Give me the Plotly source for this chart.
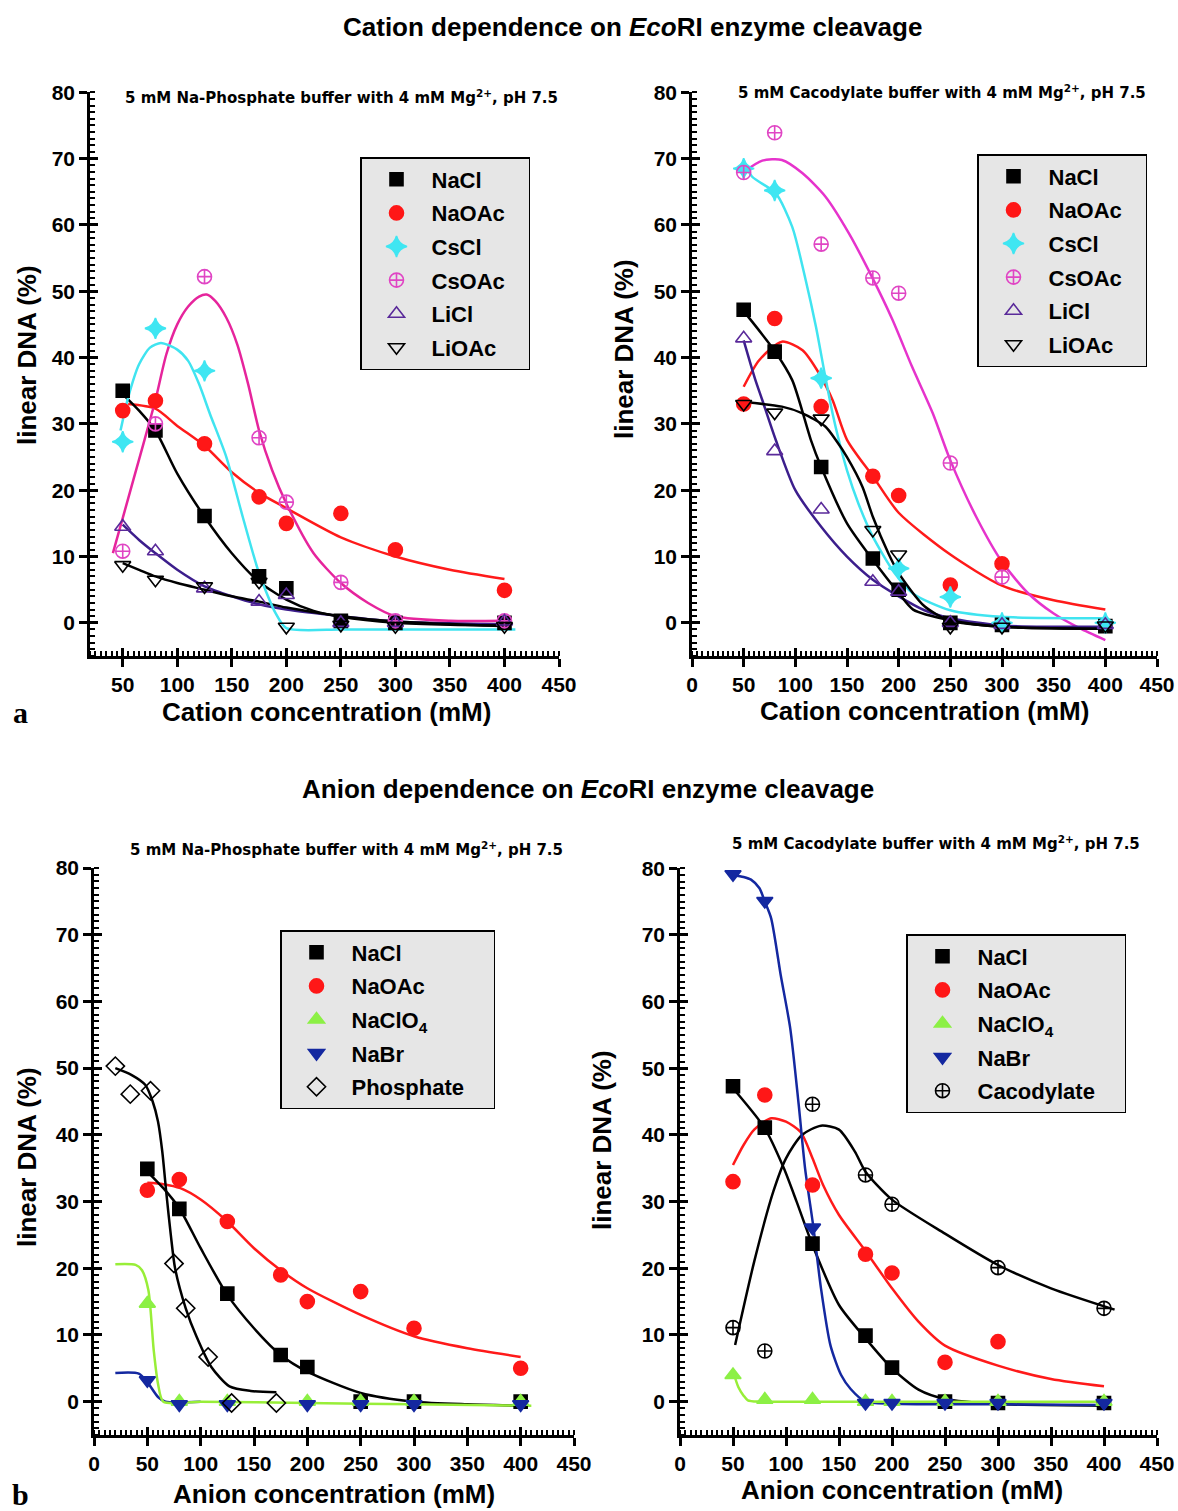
import plotly.graph_objects as go

# ---------------- DATA ----------------
# Panel a, left: 5 mM Na-phosphate buffer, cation dependence
a1_x = [50, 80, 125, 175, 200, 250, 300, 400]
a1_NaCl = [35.0, 29.0, 16.1, 7.0, 5.2, 0.3, 0.0, 0.0]
a1_NaOAc = [32.0, 33.5, 27.0, 19.0, 15.0, 16.5, 11.0, 4.9]
a1_CsCl_x = [50, 80, 125]
a1_CsCl = [27.3, 44.4, 38.0]
a1_CsOAc = [10.8, 30.0, 52.2, 27.9, 18.2, 6.1, 0.3, 0.3]
a1_LiCl = [14.5, 10.8, 5.2, 3.2, 4.2, 0.0, 0.0, 0.2]
a1_LiOAc = [8.7, 6.5, 5.5, 6.2, -0.6, -0.3, -0.5, -0.5]

a1_fit_NaCl_x = [50, 65, 80, 100, 125, 150, 175, 200, 225, 250, 300, 350, 400]
a1_fit_NaCl_y = [34.5, 32.0, 29.0, 22.5, 16.0, 10.5, 6.2, 3.5, 1.8, 0.9, 0.0, -0.3, -0.4]
a1_fit_NaOAc_x = [55, 80, 100, 125, 150, 175, 200, 250, 300, 350, 400]
a1_fit_NaOAc_y = [33.0, 32.3, 29.7, 26.7, 22.7, 19.6, 17.3, 12.9, 10.0, 8.0, 6.6]
a1_fit_CsCl_x = [48, 55, 65, 75, 85, 100, 110, 120, 130, 145, 160, 175, 190, 200, 250, 300, 410]
a1_fit_CsCl_y = [29.0, 34.0, 39.0, 41.5, 42.2, 41.2, 39.5, 36.0, 31.5, 25.0, 16.0, 7.5, 1.5, -0.8, -1.0, -1.0, -1.0]
a1_fit_CsOAc_x = [41, 50, 60, 70, 80, 90, 100, 110, 120, 127, 135, 145, 155, 165, 175, 187, 200, 225, 250, 275, 300, 350, 400]
a1_fit_CsOAc_y = [10.5, 15.8, 21.7, 27.6, 33.6, 40.5, 45.0, 47.7, 49.2, 49.5, 48.5, 46.0, 42.0, 36.0, 29.0, 23.0, 18.0, 10.5, 6.0, 3.0, 1.0, 0.3, 0.3]
a1_fit_LiCl_x = [50, 65, 80, 100, 125, 150, 175, 200, 250, 300, 400]
a1_fit_LiCl_y = [14.8, 12.5, 10.5, 8.0, 5.5, 4.0, 2.8, 2.0, 1.0, 0.2, -0.2]
a1_fit_LiOAc_x = [50, 65, 80, 100, 125, 150, 175, 200, 250, 300, 400]
a1_fit_LiOAc_y = [9.0, 8.0, 7.0, 6.0, 5.0, 4.0, 3.2, 2.3, 1.0, 0.2, -0.5]

# Panel a, right: 5 mM cacodylate buffer, cation dependence
a2_x = [50, 80, 125, 175, 200, 250, 300, 400]
a2_NaCl = [47.2, 40.9, 23.5, 9.7, 5.0, 0.0, -0.3, -0.5]
a2_NaOAc_x = [50, 80, 125, 175, 200, 250, 300]
a2_NaOAc = [33.0, 45.9, 32.6, 22.1, 19.2, 5.7, 8.9]
a2_CsCl_x = [50, 80, 125, 200, 250, 300, 400]
a2_CsCl = [68.5, 65.2, 36.9, 8.2, 3.9, 0.0, 0.0]
a2_CsOAc_x = [50, 80, 125, 175, 200, 250, 300]
a2_CsOAc = [67.9, 73.9, 57.1, 52.0, 49.7, 24.1, 6.9]
a2_LiCl = [42.9, 25.9, 17.1, 6.2, 4.7, 0.0, -0.3, -0.3]
a2_LiOAc = [33.0, 31.7, 30.8, 14.0, 10.3, -0.6, -0.6, -0.4]

a2_fit_NaCl_x = [50, 80, 97, 115, 125, 150, 175, 200, 214, 250, 300, 400]
a2_fit_NaCl_y = [47.0, 41.0, 36.6, 27.6, 23.5, 15.0, 9.5, 4.5, 2.0, 0.4, -0.6, -0.9]
a2_fit_NaOAc_x = [50, 65, 87, 107, 123, 136, 150, 175, 200, 250, 300, 350, 400]
a2_fit_NaOAc_y = [35.6, 39.6, 42.4, 41.1, 37.6, 33.6, 27.6, 22.1, 16.6, 10.3, 5.6, 3.4, 2.0]
a2_fit_CsCl_x = [50, 58, 81, 97, 110, 120, 129, 136, 142, 150, 161, 175, 196, 214, 250, 300, 400]
a2_fit_CsCl_y = [69.8, 67.3, 64.8, 59.7, 51.7, 44.6, 37.1, 31.6, 27.6, 23.0, 18.0, 13.0, 7.5, 4.4, 1.9, 0.9, 0.7]
a2_fit_CsOAc_x = [50, 68, 87, 107, 129, 152, 174, 194, 213, 233, 250, 275, 300, 325, 350, 375, 400]
a2_fit_CsOAc_y = [68.0, 69.7, 69.8, 67.8, 64.3, 58.7, 52.2, 45.7, 38.6, 31.6, 24.5, 16.0, 9.2, 4.5, 1.4, -0.8, -2.6]
a2_fit_LiCl_x = [50, 61, 68, 81, 100, 125, 150, 175, 200, 225, 250, 300, 400]
a2_fit_LiCl_y = [42.6, 36.8, 33.6, 27.6, 20.0, 14.5, 10.0, 6.5, 4.0, 1.9, 0.7, -0.4, -0.6]
a2_fit_LiOAc_x = [50, 87, 107, 129, 139, 150, 165, 175, 190, 200, 225, 250, 300, 400]
a2_fit_LiOAc_y = [33.3, 32.6, 31.6, 29.6, 27.6, 25.0, 20.5, 16.0, 10.5, 7.5, 2.5, 0.3, -0.6, -0.9]

# Panel b, left: 5 mM Na-phosphate buffer, anion dependence
b1_x = [50, 80, 125, 175, 200, 250, 300, 400]
b1_NaCl = [34.9, 28.9, 16.2, 7.0, 5.2, 0.0, 0.0, 0.0]
b1_NaOAc = [31.7, 33.3, 27.0, 19.0, 15.0, 16.5, 11.0, 5.0]
b1_salt_x = [50, 80, 125, 200, 250, 300, 400]
b1_NaClO4 = [14.7, 0.0, 0.0, 0.0, 0.0, 0.0, 0.0]
b1_NaBr = [3.2, -0.4, -0.4, -0.4, -0.4, -0.4, -0.4]
b1_Phos_x = [20, 34, 53, 75, 86, 107, 129, 171]
b1_Phos = [50.3, 46.1, 46.6, 20.7, 14.0, 6.7, -0.2, -0.2]

b1_fit_NaCl_x = [50, 65, 80, 100, 125, 150, 175, 200, 250, 300, 350, 400]
b1_fit_NaCl_y = [34.5, 32.0, 29.0, 23.0, 16.0, 11.0, 7.0, 4.5, 1.3, 0.0, -0.4, -0.6]
b1_fit_NaOAc_x = [50, 65, 81, 100, 125, 150, 175, 200, 250, 300, 350, 400]
b1_fit_NaOAc_y = [32.8, 32.6, 32.0, 30.3, 27.0, 23.0, 19.7, 17.0, 13.0, 9.8, 8.0, 6.7]
b1_fit_NaClO4_x = [20, 39, 45, 51, 56, 60, 65, 100, 200, 300, 410]
b1_fit_NaClO4_y = [20.6, 20.5, 19.7, 16.7, 7.7, 2.7, 0.0, 0.0, -0.2, -0.4, -0.6]
b1_fit_NaBr_x = [20, 42, 51, 60, 67, 100]
b1_fit_NaBr_y = [4.3, 4.2, 2.7, 0.7, 0.0, 0.0]
b1_fit_Phos_x = [20, 35, 48, 55, 60, 64, 68, 72, 76, 86, 96, 110, 127, 147, 171]
b1_fit_Phos_y = [50.0, 49.0, 47.5, 45.0, 42.0, 37.5, 31.0, 25.0, 20.0, 14.0, 9.8, 5.2, 2.3, 1.6, 1.4]

# Panel b, right: 5 mM cacodylate buffer, anion dependence
b2_x = [50, 80, 125, 175, 200, 250, 300, 400]
b2_NaCl = [47.3, 41.1, 23.7, 9.9, 5.1, 0.0, -0.2, -0.2]
b2_NaOAc_x = [50, 80, 125, 175, 200, 250, 300]
b2_NaOAc = [33.0, 46.0, 32.5, 22.1, 19.3, 5.9, 9.0]
b2_NaClO4 = [4.0, 0.3, 0.3, 0.0, 0.0, 0.0, 0.0, 0.0]
b2_NaBr = [79.1, 75.1, 26.1, -0.2, -0.2, -0.2, -0.2, -0.2]
b2_Caco_x = [50, 80, 125, 175, 200, 300, 400]
b2_Caco = [11.1, 7.6, 44.6, 34.0, 29.6, 20.1, 14.0]

b2_fit_NaCl_x = [50, 80, 98, 110, 125, 150, 175, 200, 225, 250, 300, 400]
b2_fit_NaCl_y = [47.0, 41.0, 35.0, 30.0, 23.5, 14.5, 9.5, 5.0, 1.8, 0.4, -0.35, -0.6]
b2_fit_NaOAc_x = [50, 60, 70, 86, 100, 114, 125, 135, 150, 175, 200, 225, 250, 300, 350, 400]
b2_fit_NaOAc_y = [35.5, 38.5, 40.8, 42.5, 42.0, 40.4, 36.5, 32.5, 28.0, 22.6, 17.0, 12.0, 8.4, 5.4, 3.4, 2.3]
b2_fit_NaBr_x = [50, 60, 67, 75, 80, 86, 95, 104, 112, 118, 126, 133, 142, 152, 161, 175, 200, 300, 400]
b2_fit_NaBr_y = [79.0, 78.7, 78.3, 77.0, 75.0, 72.5, 64.0, 56.0, 44.5, 35.0, 26.0, 17.0, 8.4, 4.0, 1.9, 0.0, -0.3, -0.4, -0.5]
b2_fit_NaClO4_x = [50, 55, 60, 64, 75, 100, 200, 300, 400]
b2_fit_NaClO4_y = [4.6, 2.2, 0.9, 0.2, 0.0, 0.0, 0.0, 0.0, 0.0]
b2_fit_Caco_x = [52, 70, 88, 100, 115, 133, 150, 165, 175, 200, 250, 300, 350, 410]
b2_fit_Caco_y = [8.5, 21.0, 31.5, 36.5, 40.0, 41.4, 40.8, 37.5, 34.5, 30.3, 25.2, 20.5, 17.0, 13.8]

# ---------------- STYLE ----------------
W, H = 1178, 1511
FONT = "Liberation Sans, Arial, sans-serif"
WIDE = "DejaVu Sans, Liberation Sans, sans-serif"
SERIF = "Liberation Serif, DejaVu Serif, serif"

STY = {
    "NaCl": dict(symbol="square", color="black", size=13),
    "NaOAc": dict(symbol="circle", color="#ff1717", size=14),
    "CsCl": dict(symbol="star-diamond", color="#3fe6f2", size=15),
    "CsOAc": dict(symbol="circle-cross-open", color="#e045c4", size=14),
    "LiCl": dict(symbol="triangle-up-open", color="#5a2a9a", size=14),
    "LiOAc": dict(symbol="triangle-down-open", color="black", size=14),
    "NaClO4": dict(symbol="triangle-up", color="#8cf045", size=14),
    "NaBr": dict(symbol="triangle-down", color="#1428a0", size=14),
    "Phosphate": dict(symbol="diamond-open", color="black", size=14),
    "Cacodylate": dict(symbol="circle-cross-open", color="black", size=14),
}
LABEL = {"NaClO4": "NaClO<sub>4</sub>"}
PAD = {"legend": 3, "legend2": 3, "legend3": 4, "legend4": 4}

fig = go.Figure()


def ax_ids(sub):
    return ("x" + sub, "y" + sub)


def add_fit(xs, ys, color, sub):
    xa, ya = ax_ids(sub)
    fig.add_trace(go.Scatter(x=xs, y=ys, mode="lines", xaxis=xa, yaxis=ya,
                             line=dict(color=color, width=2.5, shape="spline", smoothing=0.7),
                             showlegend=False, hoverinfo="skip"))


def add_pts(key, xs, ys, sub, legend):
    xa, ya = ax_ids(sub)
    s = STY[key]
    fig.add_trace(go.Scatter(x=xs, y=ys, mode="markers", xaxis=xa, yaxis=ya,
                             name=LABEL.get(key, key) + "\u00a0" * PAD[legend],
                             legend=legend, legendgroup=legend + key,
                             marker=dict(symbol=s["symbol"], color=s["color"], size=s["size"],
                                         line=dict(color=s["color"], width=1.6))))


# Panel a left
add_fit(a1_fit_NaOAc_x, a1_fit_NaOAc_y, "#ff1a1a", "")
add_fit(a1_fit_LiCl_x, a1_fit_LiCl_y, "#3c1e8c", "")
add_fit(a1_fit_LiOAc_x, a1_fit_LiOAc_y, "black", "")
add_fit(a1_fit_NaCl_x, a1_fit_NaCl_y, "black", "")
add_fit(a1_fit_CsOAc_x, a1_fit_CsOAc_y, "#e6249c", "")
add_fit(a1_fit_CsCl_x, a1_fit_CsCl_y, "#40e4f0", "")
add_pts("NaCl", a1_x, a1_NaCl, "", "legend")
add_pts("NaOAc", a1_x, a1_NaOAc, "", "legend")
add_pts("CsCl", a1_CsCl_x, a1_CsCl, "", "legend")
add_pts("CsOAc", a1_x, a1_CsOAc, "", "legend")
add_pts("LiCl", a1_x, a1_LiCl, "", "legend")
add_pts("LiOAc", a1_x, a1_LiOAc, "", "legend")

# Panel a right
add_fit(a2_fit_NaOAc_x, a2_fit_NaOAc_y, "#ff1a1a", "2")
add_fit(a2_fit_CsOAc_x, a2_fit_CsOAc_y, "#e633cc", "2")
add_fit(a2_fit_CsCl_x, a2_fit_CsCl_y, "#40e4f0", "2")
add_fit(a2_fit_LiCl_x, a2_fit_LiCl_y, "#3c1e8c", "2")
add_fit(a2_fit_LiOAc_x, a2_fit_LiOAc_y, "black", "2")
add_fit(a2_fit_NaCl_x, a2_fit_NaCl_y, "black", "2")
add_pts("NaCl", a2_x, a2_NaCl, "2", "legend2")
add_pts("NaOAc", a2_NaOAc_x, a2_NaOAc, "2", "legend2")
add_pts("CsCl", a2_CsCl_x, a2_CsCl, "2", "legend2")
add_pts("CsOAc", a2_CsOAc_x, a2_CsOAc, "2", "legend2")
add_pts("LiCl", a2_x, a2_LiCl, "2", "legend2")
add_pts("LiOAc", a2_x, a2_LiOAc, "2", "legend2")

# Panel b left
add_fit(b1_fit_NaOAc_x, b1_fit_NaOAc_y, "#ff1a1a", "3")
add_fit(b1_fit_NaCl_x, b1_fit_NaCl_y, "black", "3")
add_fit(b1_fit_Phos_x, b1_fit_Phos_y, "black", "3")
add_fit(b1_fit_NaBr_x, b1_fit_NaBr_y, "#1428a0", "3")
add_fit(b1_fit_NaClO4_x, b1_fit_NaClO4_y, "#98ee38", "3")
add_pts("NaCl", b1_x, b1_NaCl, "3", "legend3")
add_pts("NaOAc", b1_x, b1_NaOAc, "3", "legend3")
add_pts("NaClO4", b1_salt_x, b1_NaClO4, "3", "legend3")
add_pts("NaBr", b1_salt_x, b1_NaBr, "3", "legend3")
add_pts("Phosphate", b1_Phos_x, b1_Phos, "3", "legend3")

# Panel b right
add_fit(b2_fit_NaOAc_x, b2_fit_NaOAc_y, "#ff1a1a", "4")
add_fit(b2_fit_Caco_x, b2_fit_Caco_y, "black", "4")
add_fit(b2_fit_NaCl_x, b2_fit_NaCl_y, "black", "4")
add_fit(b2_fit_NaBr_x, b2_fit_NaBr_y, "#1428a0", "4")
add_fit(b2_fit_NaClO4_x, b2_fit_NaClO4_y, "#98ee38", "4")
add_pts("NaCl", b2_x, b2_NaCl, "4", "legend4")
add_pts("NaOAc", b2_NaOAc_x, b2_NaOAc, "4", "legend4")
add_pts("NaClO4", b2_x, b2_NaClO4, "4", "legend4")
add_pts("NaBr", b2_x, b2_NaBr, "4", "legend4")
add_pts("Cacodylate", b2_Caco_x, b2_Caco, "4", "legend4")

# empty traces for the overlay axes (inner half of the crossing major ticks)
for k in range(5, 9):
    fig.add_trace(go.Scatter(x=[None], y=[None], xaxis="x%d" % k, yaxis="y%d" % k,
                             showlegend=False, hoverinfo="skip"))


def fx(p):
    return p / W


def fy(p):
    return 1 - p / H


TICKFONT = dict(family=FONT, size=21, color="black", weight="bold")


def main_axis(rng, dtick, mdtick, domain, anchor):
    return dict(range=rng, domain=domain, anchor=anchor, showline=True, linecolor="black",
                linewidth=2.5, ticks="outside", ticklen=8, tickwidth=2.5, tickcolor="black",
                tick0=0, dtick=dtick, showgrid=False, zeroline=False, tickfont=TICKFONT,
                fixedrange=True, automargin=False,
                minor=dict(ticks="inside", ticklen=5, tickwidth=1.5, tickcolor="black",
                           dtick=mdtick, tick0=0, showgrid=False))


def over_axis(rng, dtick, overlaying, anchor):
    return dict(range=rng, overlaying=overlaying, anchor=anchor, showline=False,
                ticks="inside", ticklen=8, tickwidth=2.5, tickcolor="black", tick0=0,
                dtick=dtick, showticklabels=False, showgrid=False, zeroline=False,
                fixedrange=True, automargin=False)


YR = [-5, 80]
panels = [
    # (x range, x domain px, y domain px)
    ([20, 450], (90, 559), (92.3, 656)),
    ([0, 450], (692, 1157), (92.3, 656)),
    ([0, 450], (94, 574), (868, 1435)),
    ([0, 450], (680, 1157), (868.3, 1435)),
]
lay = {}
for i, (xr, (x0, x1), (yt, yb)) in enumerate(panels):
    n = "" if i == 0 else str(i + 1)
    k = str(i + 5)
    lay["xaxis" + n] = main_axis(xr, 50, 5, [fx(x0), fx(x1)], "y" + n)
    lay["yaxis" + n] = main_axis(YR, 10, 1, [fy(yb), fy(yt)], "x" + n)
    lay["xaxis" + k] = over_axis(xr, 50, "x" + n, "y" + k)
    lay["yaxis" + k] = over_axis(YR, 10, "y" + n, "x" + k)

LEG = dict(bgcolor="#e6e6e6", bordercolor="black", borderwidth=1.5,
           font=dict(family=FONT, size=22, color="black", weight="bold"),
           itemwidth=60, tracegroupgap=2, traceorder="grouped",
           xanchor="left", yanchor="top", itemclick=False, itemdoubleclick=False)
lay["legend"] = dict(LEG, x=fx(360), y=fy(157))
lay["legend2"] = dict(LEG, x=fx(977), y=fy(154))
lay["legend3"] = dict(LEG, x=fx(280), y=fy(930))
lay["legend4"] = dict(LEG, x=fx(906), y=fy(934))

ann = []


def text(t, px, py, size, family=FONT, angle=0):
    ann.append(dict(text=t, x=fx(px), y=fy(py), xref="paper", yref="paper",
                    xanchor="center", yanchor="middle", showarrow=False, textangle=angle,
                    font=dict(family=family, size=size, color="black")))


text("<b>Cation dependence on <i>Eco</i>RI enzyme cleavage</b>", 632, 27, 26)
text("<b>Anion dependence on <i>Eco</i>RI enzyme cleavage</b>", 588, 789, 26)
text("<b>5 mM Na-Phosphate buffer with 4 mM Mg<sup>2+</sup>, pH 7.5</b>", 341, 97, 15, WIDE)
text("<b>5 mM Cacodylate buffer with 4 mM Mg<sup>2+</sup>, pH 7.5</b>", 942, 92, 15, WIDE)
text("<b>5 mM Na-Phosphate buffer with 4 mM Mg<sup>2+</sup>, pH 7.5</b>", 346, 849, 15, WIDE)
text("<b>5 mM Cacodylate buffer with 4 mM Mg<sup>2+</sup>, pH 7.5</b>", 936, 843, 15, WIDE)
text("<b>Cation concentration (mM)</b>", 326, 712, 26)
text("<b>Cation concentration (mM)</b>", 924, 711, 26)
text("<b>Anion concentration (mM)</b>", 334, 1494, 26)
text("<b>Anion concentration (mM)</b>", 902, 1490, 26)
text("<b>linear DNA (%)</b>", 27, 355, 26, angle=-90)
text("<b>linear DNA (%)</b>", 624, 349, 26, angle=-90)
text("<b>linear DNA (%)</b>", 27, 1157, 26, angle=-90)
text("<b>linear DNA (%)</b>", 602, 1140, 26, angle=-90)
text("<b>a</b>", 20, 712, 30, family=SERIF)
text("<b>b</b>", 20, 1494, 30, family=SERIF)

fig.update_layout(width=W, height=H, margin=dict(l=0, r=0, t=0, b=0, pad=0, autoexpand=False),
                  paper_bgcolor="white", plot_bgcolor="rgba(0,0,0,0)",
                  annotations=ann, hovermode=False, **lay)

fig.write_html("out.html", config={"displayModeBar": False},
               post_script="document.body.style.margin='0px';document.body.style.padding='0px';")
